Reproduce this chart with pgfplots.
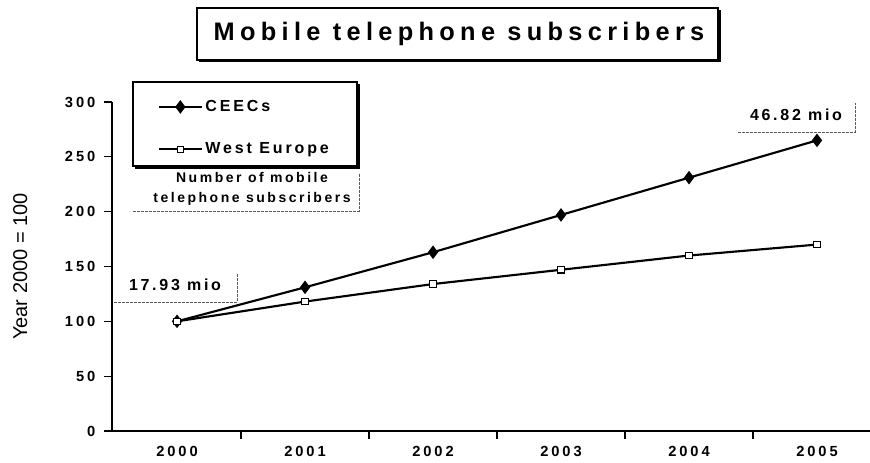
\documentclass[border=0pt]{standalone}
\usepackage{fontspec}
\setmainfont{Liberation Sans}
\newfontfamily\titlefont[LetterSpace=21]{Liberation Sans}
\newfontfamily\legfont[LetterSpace=18]{Liberation Sans}
\newfontfamily\notefont[LetterSpace=17]{Liberation Sans}
\newfontfamily\numfont[LetterSpace=18]{Liberation Sans}
\newfontfamily\tickfont[LetterSpace=20]{Liberation Sans}
\usepackage{pgfplots}
\pgfplotsset{compat=1.18}
\begin{document}
\begin{tikzpicture}
\path[use as bounding box] (0,0) rectangle (652.5pt,347.25pt);
\begin{axis}[
 at={(84pt,24pt)}, anchor=south west, scale only axis,
 width=568.5pt, height=246.75pt,
 xmin=-0.508, xmax=5.414, ymin=0, ymax=300,
 axis x line=bottom, axis y line=left,
 axis line style={-, line width=1pt},
 xtick={0.5,1.5,2.5,3.5,4.5}, xticklabels={,,,,},
 extra x ticks={0,1,2,3,4,5},
 extra x tick labels={2000,2001,2002,2003,2004,2005},
 extra x tick style={major tick length=0pt, xticklabel style={yshift=-8pt}},
 ytick={0,50,...,300},
 tick align=outside, major tick length=6pt,
 tick style={black, line width=0.8pt},
 ticklabel style={font=\tickfont\bfseries\fontsize{11}{13}\selectfont},
 yticklabel style={xshift=-3pt},
 /pgf/number format/assume math mode=true,
 ylabel={Year 2000 = 100},
 ylabel style={at={(axis description cs:-0.121,0.5)}, anchor=center, font=\fontsize{15}{17}\selectfont},
 legend style={at={(0.055,1.022)}, anchor=north west, draw=none, fill=none,
   font=\legfont\bfseries\fontsize{12}{14}\selectfont, row sep=18pt},
 legend cell align=left,
 legend image code/.code={\draw[mark repeat=2,mark phase=2,#1] plot coordinates {(0pt,0pt) (16pt,0pt) (32pt,0pt)};},
 clip=false,
]
\addplot[black, line width=1.6pt, mark=diamond*, mark size=3.8pt]
  coordinates {(0,100)(1,131)(2,163)(3,197)(4,231)(5,265)};
\addlegendentry{CEECs}
\addplot[black, line width=1.6pt, mark=square*, mark size=2.4pt, mark options={fill=white, line width=0.9pt}]
  coordinates {(0,100)(1,118)(2,134)(3,147)(4,160)(5,170)};
\addlegendentry{West Europe}
\end{axis}
\begin{scope}[shift={(0,347.25pt)}, x=0.75pt, y=-0.75pt]
 \draw[line width=1pt] (197,8) rectangle (718,60);
 \draw[line width=2.2pt] (199,61) -- (719.5,61) -- (719.5,10);
 \node[font=\titlefont\bfseries\fontsize{19}{21}\selectfont] at (459,34) {Mobile telephone subscribers};
 \draw[line width=0.9pt] (133,82) rectangle (357,166);
 \draw[line width=2pt] (135,167.5) -- (358.5,167.5) -- (358.5,84);
 \node[font=\numfont\bfseries\fontsize{10.5}{15}\selectfont, align=center] at (252,189) {Number of mobile\\telephone subscribers};
 \draw[gray!70!black, dash pattern=on 2pt off 1pt, line width=0.6pt] (133,211) -- (359,211) -- (359,173);
 \node[font=\notefont\bfseries\fontsize{12}{14}\selectfont] at (175,285) {17.93 mio};
 \draw[gray!70!black, dash pattern=on 2pt off 1pt, line width=0.6pt] (114,302) -- (237,302) -- (237,273);
 \node[font=\notefont\bfseries\fontsize{12}{14}\selectfont] at (796,115) {46.82 mio};
 \draw[gray!70!black, dash pattern=on 2pt off 1pt, line width=0.6pt] (738,132) -- (855,132) -- (855,103);
\end{scope}
\end{tikzpicture}
\end{document}
